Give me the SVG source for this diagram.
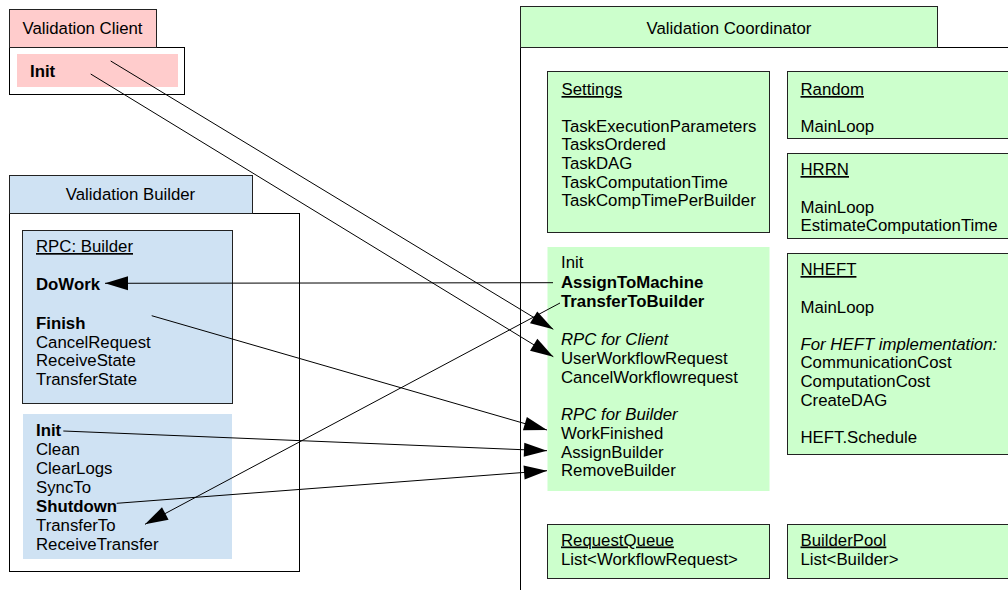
<svg xmlns="http://www.w3.org/2000/svg" width="1008" height="590" viewBox="0 0 1008 590">
<style>
text{font-family:"Liberation Sans",Arial,sans-serif;font-size:16.8px;fill:#000}
.b{font-weight:bold}
.i{font-style:italic}
.u{text-decoration:underline}
.c{text-anchor:middle}
.frame{fill:#fff;stroke:#000;stroke-width:1}
.pink{fill:#ffcccc}
.blue{fill:#cfe2f3}
.green{fill:#ccffcc}
.bd{stroke:#222;stroke-width:1}
.conn{stroke:#000;stroke-width:1;fill:none;marker-end:url(#ah)}
</style>
<defs>
<marker id="ah" markerUnits="userSpaceOnUse" markerWidth="24" markerHeight="15" refX="23" refY="7" orient="auto" overflow="visible">
<path d="M0,0 L23,7 L0,14 Z" fill="#000"/>
</marker>
</defs>
<rect width="1008" height="590" fill="#fff"/>

<g id="validation-client">
<rect class="frame" x="9.5" y="47.5" width="175" height="47"/>
<rect class="pink bd" x="9.5" y="9.5" width="147" height="38"/>
<text class="c" x="82.5" y="34">Validation Client</text>
<rect class="pink" x="17" y="54" width="161" height="33"/>
<text class="b" x="30" y="77">Init</text>
</g>

<g id="validation-builder">
<rect class="frame" x="9.5" y="213.5" width="290" height="358"/>
<rect class="blue bd" x="9.5" y="175.5" width="243" height="38"/>
<text class="c" x="130.5" y="200">Validation Builder</text>
<g id="rpc-builder">
<rect class="blue bd" x="22.5" y="230.5" width="210" height="173"/>
<text class="u" x="36" y="252">RPC: Builder</text>
<text class="b" x="36" y="289.5">DoWork</text>
<text class="b" x="36" y="328.5">Finish</text>
<text x="36" y="347.5">CancelRequest</text>
<text x="36" y="366">ReceiveState</text>
<text x="36" y="385">TransferState</text>
</g>
<g id="builder-methods">
<rect class="blue" x="23" y="414" width="209" height="145"/>
<text class="b" x="36" y="436">Init</text>
<text x="36" y="455">Clean</text>
<text x="36" y="474">ClearLogs</text>
<text x="36" y="493">SyncTo</text>
<text class="b" x="36" y="512">Shutdown</text>
<text x="36" y="531">TransferTo</text>
<text x="36" y="550">ReceiveTransfer</text>
</g>
</g>

<g id="validation-coordinator">
<rect class="frame" x="520.5" y="47.5" width="500" height="560"/>
<rect class="green bd" x="520.5" y="6.5" width="417" height="41"/>
<text class="c" x="729" y="33.5">Validation Coordinator</text>

<g id="settings">
<rect class="green bd" x="547.5" y="71.5" width="222" height="161"/>
<text class="u" x="561.5" y="95">Settings</text>
<text x="561.5" y="132">TaskExecutionParameters</text>
<text x="561.5" y="149.5">TasksOrdered</text>
<text x="561.5" y="168.5">TaskDAG</text>
<text x="561.5" y="187.5">TaskComputationTime</text>
<text x="561.5" y="206">TaskCompTimePerBuilder</text>
</g>

<g id="random">
<rect class="green bd" x="787.5" y="71.5" width="230" height="67"/>
<text class="u" x="800.5" y="95">Random</text>
<text x="800.5" y="132">MainLoop</text>
</g>

<g id="hrrn">
<rect class="green bd" x="787.5" y="153.5" width="230" height="85"/>
<text class="u" x="800.5" y="175">HRRN</text>
<text x="800.5" y="212.5">MainLoop</text>
<text x="800.5" y="231">EstimateComputationTime</text>
</g>

<g id="coordinator-methods">
<rect class="green" x="547.5" y="247" width="222" height="244"/>
<text x="561" y="268">Init</text>
<text class="b" x="561" y="288">AssignToMachine</text>
<text class="b" x="561" y="307">TransferToBuilder</text>
<text class="i" x="561" y="345">RPC for Client</text>
<text x="561" y="364">UserWorkflowRequest</text>
<text x="561" y="383">CancelWorkflowrequest</text>
<text class="i" x="561" y="420">RPC for Builder</text>
<text x="561" y="439">WorkFinished</text>
<text x="561" y="457.5">AssignBuilder</text>
<text x="561" y="476">RemoveBuilder</text>
</g>

<g id="nheft">
<rect class="green bd" x="787.5" y="253.5" width="230" height="201"/>
<text class="u" x="800.5" y="275">NHEFT</text>
<text x="800.5" y="312.5">MainLoop</text>
<text class="i" x="800.5" y="350">For HEFT implementation:</text>
<text x="800.5" y="368">CommunicationCost</text>
<text x="800.5" y="387">ComputationCost</text>
<text x="800.5" y="405.5">CreateDAG</text>
<text x="800.5" y="443">HEFT.Schedule</text>
</g>

<g id="request-queue">
<rect class="green bd" x="547.5" y="524.5" width="222" height="54"/>
<text class="u" x="561" y="545.5">RequestQueue</text>
<text x="561" y="564.5">List&lt;WorkflowRequest&gt;</text>
</g>

<g id="builder-pool">
<rect class="green bd" x="787.5" y="524.5" width="230" height="54"/>
<text class="u" x="800.5" y="545.5">BuilderPool</text>
<text x="800.5" y="564.5">List&lt;Builder&gt;</text>
</g>
</g>

<g id="connectors">
<line class="conn" x1="110.7" y1="61" x2="553.3" y2="329.3"/>
<line class="conn" x1="90.7" y1="74" x2="553.3" y2="356.7"/>
<line class="conn" x1="553" y1="282.7" x2="105" y2="283.3"/>
<line class="conn" x1="560" y1="303" x2="145" y2="524.3"/>
<line class="conn" x1="151.7" y1="315.7" x2="547" y2="430"/>
<line class="conn" x1="63.3" y1="431" x2="547" y2="450.7"/>
<line class="conn" x1="116.7" y1="503.3" x2="547" y2="470.7"/>
</g>
</svg>
